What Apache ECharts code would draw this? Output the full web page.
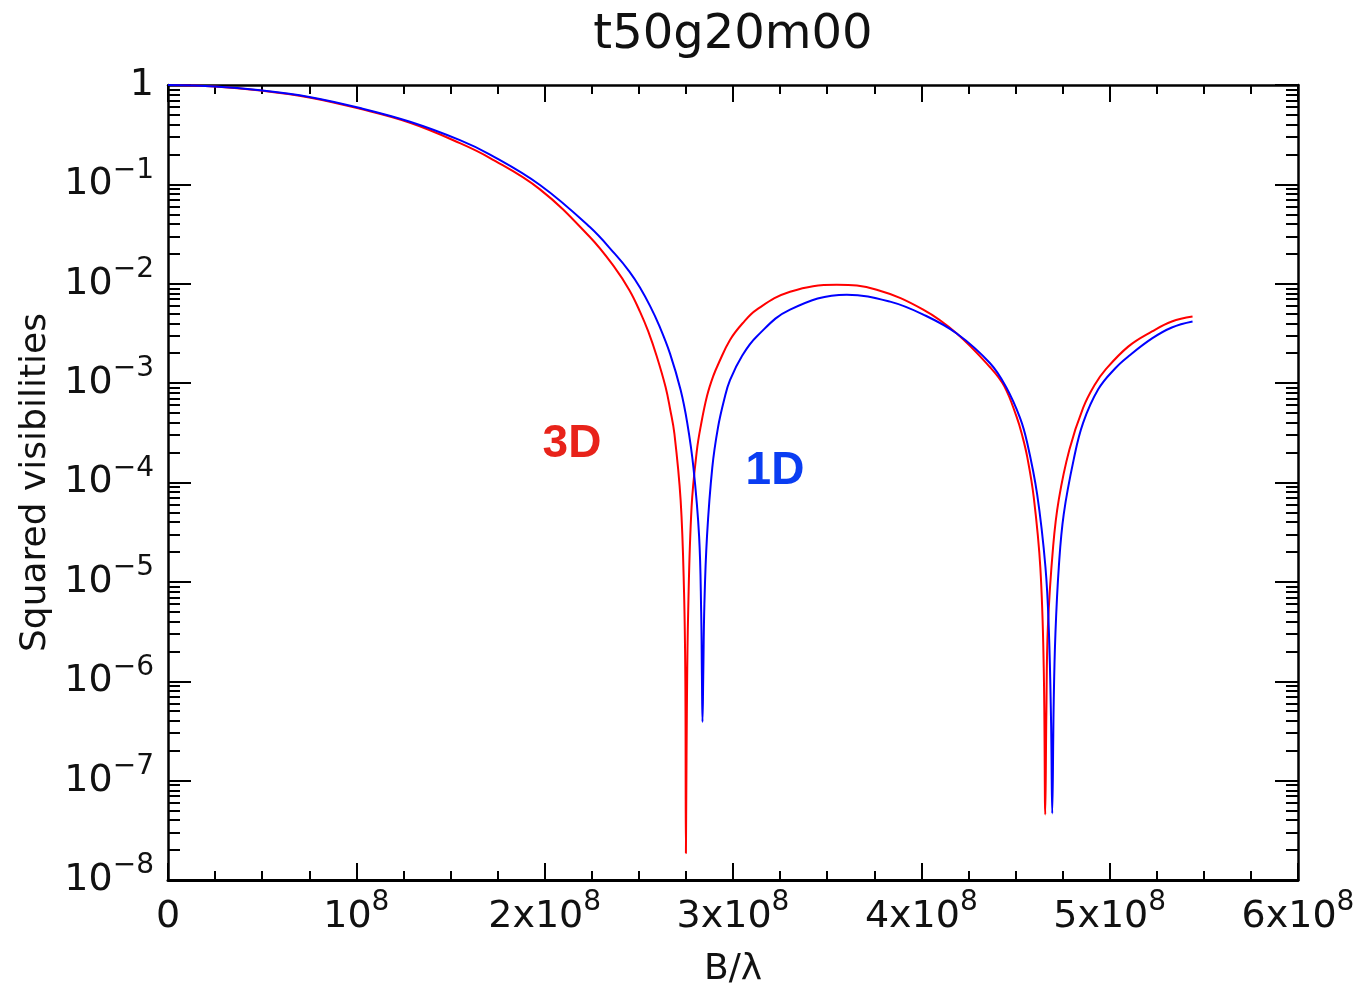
<!DOCTYPE html>
<html><head><meta charset="utf-8">
<script src="https://cdn.jsdelivr.net/npm/echarts@6/dist/echarts.min.js"></script>
<style>html,body{margin:0;padding:0;background:#fff}#c{width:1364px;height:994px}</style>
</head><body><div id="c"></div>
<script>
// B/lambda in units of 1e8
const baseline3D = [0,0.25,0.49,0.75,1.02,1.285,1.55,1.71,1.975,2.24,2.373,2.45,2.506,2.55,2.595,2.642,2.666,2.689,2.722,2.740,2.747,2.750,2.755,2.762,2.780,2.808,2.830,2.862,2.895,2.926,2.984,3.05,3.126,3.303,3.551,3.763,4.01,4.188,4.365,4.44,4.506,4.536,4.562,4.597,4.632,4.650,4.658,4.664,4.672,4.700,4.730,4.786,4.859,4.920,4.980,5.100,5.225,5.330,5.440];
// log10 of squared visibility
const log10V2_3D = [0,-0.015,-0.055,-0.125,-0.24,-0.38,-0.585,-0.735,-1.05,-1.53,-1.84,-2.065,-2.28,-2.48,-2.73,-3.04,-3.26,-3.51,-4.18,-5.1,-6.0,-7.73,-6.3,-5.3,-4.25,-3.68,-3.42,-3.13,-2.93,-2.79,-2.565,-2.40,-2.26,-2.08,-2.01,-2.06,-2.26,-2.50,-2.84,-3.03,-3.34,-3.53,-3.74,-4.15,-4.86,-5.87,-7.34,-6.3,-5.45,-4.64,-4.17,-3.67,-3.25,-3.02,-2.86,-2.63,-2.48,-2.38,-2.33];

const baseline1D = [0,0.25,0.49,0.75,1.02,1.285,1.55,1.71,1.975,2.24,2.373,2.45,2.506,2.56,2.607,2.666,2.722,2.757,2.790,2.820,2.831,2.835,2.838,2.842,2.848,2.862,2.890,2.920,2.954,2.984,3.05,3.126,3.303,3.604,3.834,4.010,4.188,4.365,4.45,4.524,4.562,4.615,4.659,4.677,4.689,4.695,4.703,4.712,4.730,4.756,4.810,4.859,4.940,5.030,5.100,5.225,5.330,5.440];
const log10V2_1D = [0,-0.014,-0.053,-0.12,-0.232,-0.37,-0.555,-0.70,-1.006,-1.43,-1.70,-1.877,-2.037,-2.225,-2.416,-2.705,-3.07,-3.40,-3.85,-4.54,-5.3,-5.95,-6.41,-5.95,-5.23,-4.54,-3.85,-3.45,-3.16,-2.97,-2.72,-2.53,-2.26,-2.11,-2.18,-2.31,-2.50,-2.80,-3.04,-3.35,-3.60,-4.12,-4.85,-5.48,-6.42,-7.33,-6.2,-5.52,-4.85,-4.32,-3.76,-3.40,-3.06,-2.85,-2.73,-2.55,-2.44,-2.38];

const xTickValues = [0,1,2,3,4,5,6];
const xLabelBase = ['0','10','2x10','3x10','4x10','5x10','6x10'];
const xLabelSup  = ['','8','8','8','8','8','8'];
const yTickValues = [-8,-7,-6,-5,-4,-3,-2,-1,0];
const yLabelBase = ['10','10','10','10','10','10','10','10','1'];
const yLabelSup  = ['\u22128','\u22127','\u22126','\u22125','\u22124','\u22123','\u22122','\u22121',''];
const minorDigits = [2,3,4,5,6,7,8,9];

const titleText = 't50g20m00';
const xName = 'B/\u03bb';
const yName = 'Squared visibilities';
const annotations = [
  {text:'3D', x:2.145, y:-3.62, color:'#e8231a'},
  {text:'1D', x:3.223, y:-3.89, color:'#0a3df2'}
];

const FONT = 'DejaVu Sans';
const minorY = [];
for (let n = -8; n < 0; n++) minorDigits.forEach(k => minorY.push(n + Math.log10(k)));

function mk(a, b){ return a.map((v,i)=>[v,b[i]]); }

const labelRich = {
  b:{fontFamily:FONT,fontSize:38,color:'#111',lineHeight:56},
  s:{fontFamily:FONT,fontSize:28,color:'#111',lineHeight:18,verticalAlign:'top'}
};
function xFmt(v){ const i = xTickValues.indexOf(Math.round(v)); if(i<0) return ''; return '{b|'+xLabelBase[i]+'}'+(xLabelSup[i]?'{s|'+xLabelSup[i]+'}':''); }
function yFmt(v){ const i = yTickValues.indexOf(Math.round(v)); if(i<0) return ''; return '{b|'+yLabelBase[i]+'}'+(yLabelSup[i]?'{s|'+yLabelSup[i]+'}':''); }

function axLine(w){ return {show:true,onZero:false,lineStyle:{color:'#000',width:w}}; }
function xAx(pos, labels){
  return {type:'value',min:0,max:6,interval:1,position:pos,
    axisLine:axLine(labels?3:2.5),
    axisTick:{show:true,inside:true,length:17,lineStyle:{color:'#000',width:2}},
    minorTick:{show:true,splitNumber:4,length:9,lineStyle:{color:'#000',width:2}},
    splitLine:{show:false},minorSplitLine:{show:false},
    axisLabel:{show:labels,formatter:xFmt,margin:9,rich:labelRich},
    name: labels?xName:'', nameLocation:'middle', nameGap:72,
    nameTextStyle:{fontFamily:FONT,fontSize:36,color:'#111'}};
}
function yAx(pos, labels){
  return {type:'value',min:-8,max:0,interval:1,position:pos,
    axisLine:axLine(2.5),
    axisTick:{show:true,inside:true,length:23,lineStyle:{color:'#000',width:2}},
    splitLine:{show:false},
    axisLabel:{show:labels,formatter:yFmt,margin:14,rich:labelRich},
    name: labels?yName:'', nameLocation:'middle', nameGap:108, nameRotate:90,
    nameTextStyle:{fontFamily:FONT,fontSize:36,color:'#111'}};
}
function yMinor(pos){
  return {type:'value',min:-8,max:0,position:pos,
    axisLine:{show:false,onZero:false},
    axisTick:{show:true,inside:true,length:12,customValues:minorY,lineStyle:{color:'#000',width:2}},
    axisLabel:{show:false},splitLine:{show:false}};
}

const chart = echarts.init(document.getElementById('c'), null, {renderer:'canvas'});
chart.setOption({
  animation:false,
  backgroundColor:'#fff',
  grid:{left:168,right:66,top:85,bottom:114,containLabel:false},
  xAxis:[xAx('bottom',true), xAx('top',false)],
  yAxis:[yAx('left',true), yAx('right',false), yMinor('left'), yMinor('right')],
  series:[
    {type:'line',name:'3D',data:mk(baseline3D,log10V2_3D),showSymbol:false,smooth:0.4,
     lineStyle:{color:'#ff0000',width:2},itemStyle:{color:'#ff0000'},clip:true,z:2},
    {type:'line',name:'1D',data:mk(baseline1D,log10V2_1D),showSymbol:false,smooth:0.4,
     lineStyle:{color:'#0000ff',width:2},itemStyle:{color:'#0000ff'},clip:true,z:3}
  ]
});
const g = [{type:'text',x:733,y:36,style:{text:titleText,fontFamily:FONT,fontSize:48,fill:'#111',textAlign:'center',textVerticalAlign:'middle'}}];
annotations.forEach(a=>{
  const p = chart.convertToPixel({xAxisIndex:0,yAxisIndex:0},[a.x,a.y]);
  g.push({type:'text',x:p[0],y:p[1],style:{text:a.text,fontFamily:'Liberation Sans',fontWeight:'bold',fontSize:46,fill:a.color,textAlign:'center',textVerticalAlign:'middle'}});
});
chart.setOption({graphic:g});
</script>
</body></html>
